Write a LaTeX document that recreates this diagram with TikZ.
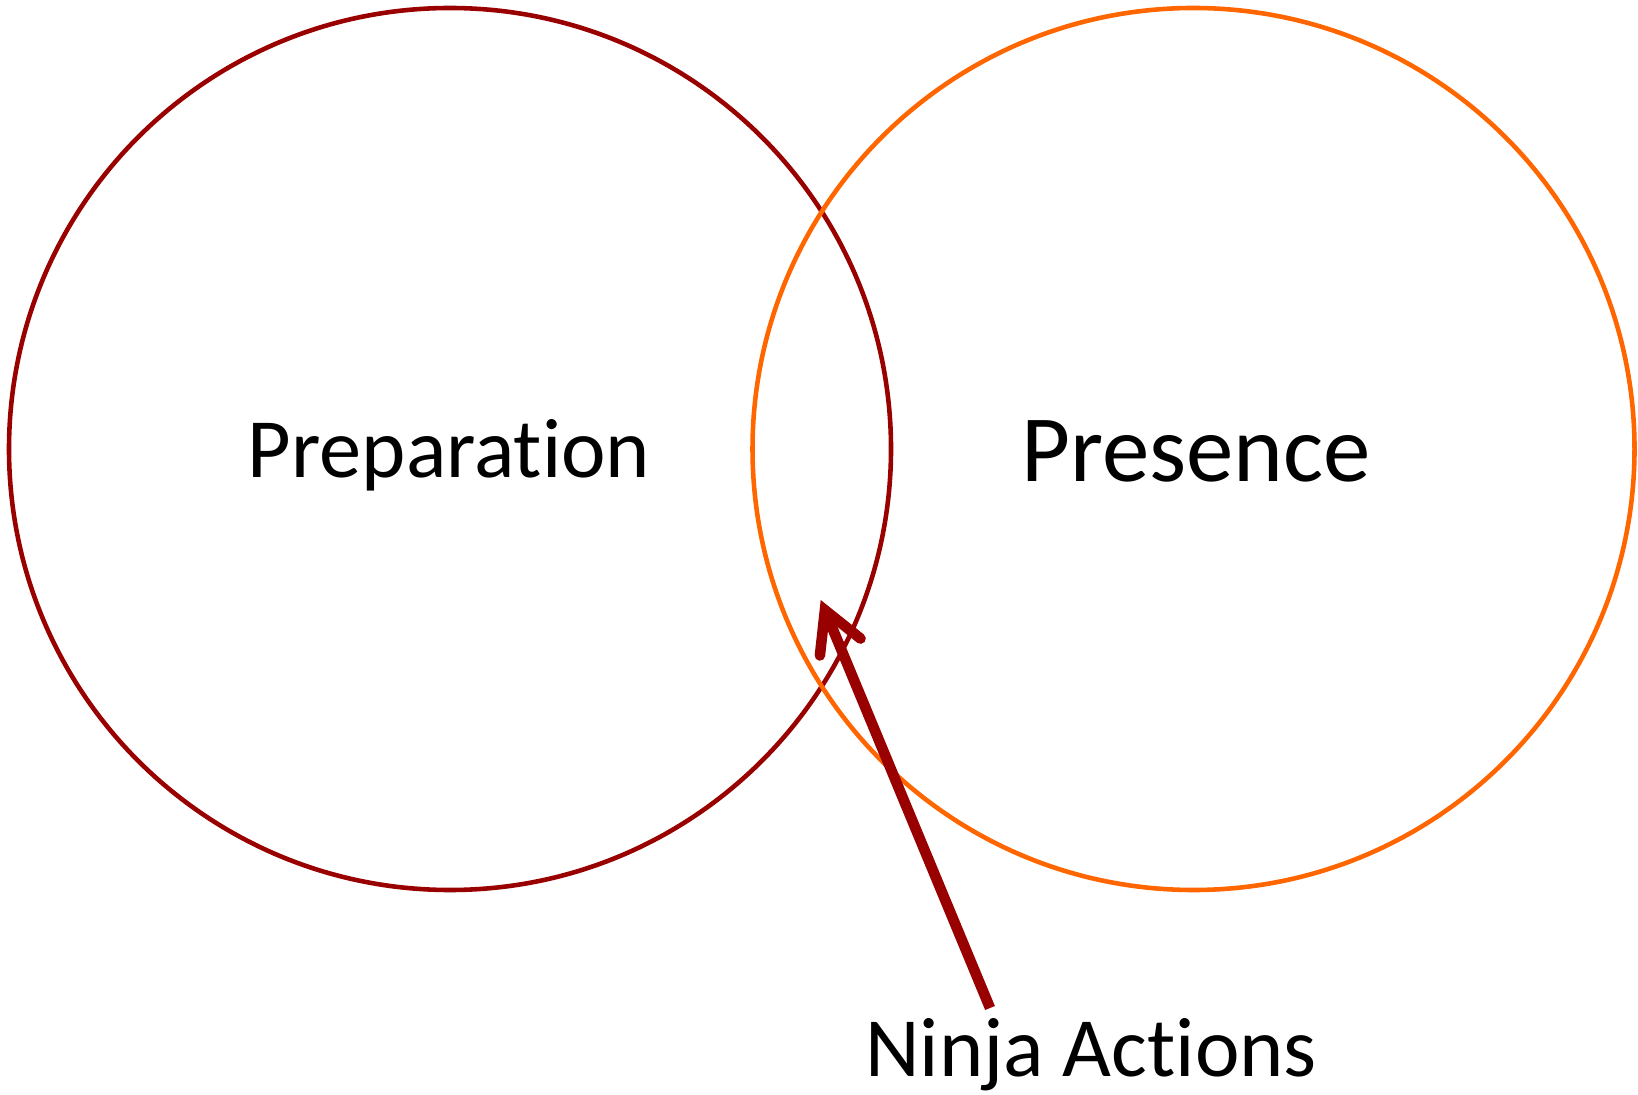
\documentclass[tikz,border=0pt]{standalone}
\usepackage{fontspec}
\setmainfont{Carlito}[Ligatures=NoCommon]
\usetikzlibrary{arrows.meta}
\definecolor{rougefonce}{HTML}{990000}
\definecolor{orangevif}{HTML}{FF6600}
\begin{document}
\begin{tikzpicture}
\tikzset{cercle/.style={draw, circle, line width=1.3pt, minimum size=8.82cm, inner sep=0pt},
         titre/.style={anchor=base, inner sep=0pt}}
\useasboundingbox (0, 0) rectangle (16.38, 10.94);
\node[cercle, draw=rougefonce] (Prep) at (4.50, 6.45) {};
\node[cercle, draw=orangevif] (Pres) at (11.935, 6.45) {};
\node[titre, font=\fontsize{24}{28}\selectfont] (TPrep) at (4.49, 6.16) {Preparation};
\node[titre, font=\fontsize{27}{32}\selectfont] (TPres) at (11.96, 6.12) {Presence};
\node[titre, font=\fontsize{24}{28}\selectfont] (Ninja) at (10.91, 0.18) {Ninja Actions};
\coordinate (Queue) at (9.90, 0.86);
\coordinate (Pointe) at (8.207, 4.94);
\draw[rougefonce, line width=3pt, -{Straight Barb[length=0.40cm, width=0.44cm, line cap=round]}] (Queue) -- (Pointe);
\end{tikzpicture}
\end{document}
